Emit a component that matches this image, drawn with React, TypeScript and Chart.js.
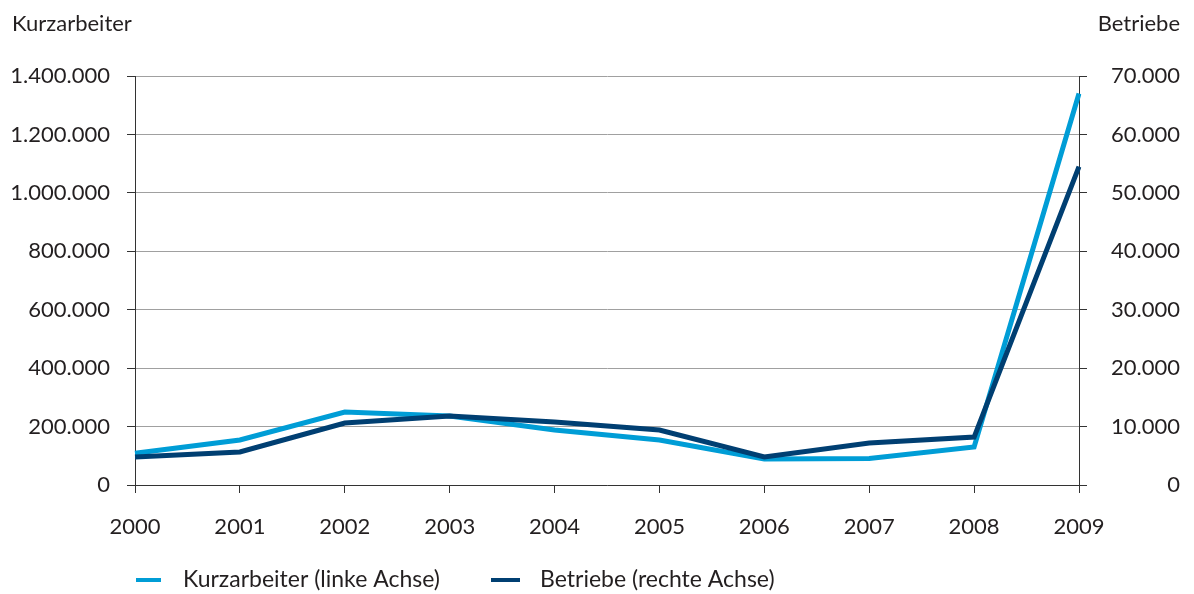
import React, { useEffect, useRef } from "react";
import { Chart, registerables } from "chart.js";

Chart.register(...registerables);

const years = ["2000", "2001", "2002", "2003", "2004", "2005", "2006", "2007", "2008", "2009"];
const kurzarbeiter = [109000, 154000, 250000, 236000, 188000, 154000, 89000, 91000, 130000, 1340000];
const betriebe = [4800, 5650, 10600, 11800, 10800, 9400, 4800, 7200, 8200, 54500];
const leftTitle = "Kurzarbeiter";
const rightTitle = "Betriebe";
const legendLabels = ["Kurzarbeiter (linke Achse)", "Betriebe (rechte Achse)"];

const LIGHT = "#009dd6";
const DARK = "#003f72";
const TEXT = "#231f20";
const FONT = "Lato";

const fmt = (v: number) => String(Math.round(v)).replace(/\B(?=(\d{3})+(?!\d))/g, ".");

const overlay = {
  id: "overlay",
  afterDraw(chart: any) {
    const ctx = chart.ctx;
    ctx.save();
    ctx.fillStyle = TEXT;
    ctx.font = `22px ${FONT}`;
    ctx.textBaseline = "middle";
    ctx.textAlign = "left";
    ctx.fillText(leftTitle, 12, 24);
    ctx.textAlign = "right";
    ctx.fillText(rightTitle, 1180, 24);
    // legend
    const y = 580;
    const items = [
      { x: 136, w: 25, tx: 183, color: LIGHT, label: legendLabels[0] },
      { x: 491, w: 29, tx: 540, color: DARK, label: legendLabels[1] },
    ];
    ctx.font = `23px ${FONT}`;
    ctx.textAlign = "left";
    items.forEach((it) => {
      ctx.strokeStyle = it.color;
      ctx.lineWidth = 4;
      ctx.beginPath();
      ctx.moveTo(it.x, y);
      ctx.lineTo(it.x + it.w, y);
      ctx.stroke();
      ctx.fillText(it.label, it.tx, y);
    });
    ctx.restore();
  },
};

export default function App() {
  const ref = useRef<HTMLCanvasElement>(null);
  useEffect(() => {
    document.body.style.margin = "0";
    const chart = new Chart(ref.current!, {
      type: "line",
      data: {
        labels: years,
        datasets: [
          {
            label: legendLabels[0],
            data: kurzarbeiter,
            yAxisID: "y",
            borderColor: LIGHT,
            backgroundColor: LIGHT,
            borderWidth: 5,
            pointRadius: 0,
            tension: 0,
            order: 1,
          },
          {
            label: legendLabels[1],
            data: betriebe,
            yAxisID: "y1",
            borderColor: DARK,
            backgroundColor: DARK,
            borderWidth: 5,
            pointRadius: 0,
            tension: 0,
            order: 0,
          },
        ],
      },
      options: {
        responsive: false,
        animation: false,
        events: [],
        layout: { padding: { top: 76, left: 0, right: 14, bottom: 0 } },
        plugins: { legend: { display: false }, tooltip: { enabled: false } },
        scales: {
          x: {
            type: "category",
            offset: false,
            grid: { drawOnChartArea: false, drawTicks: true, tickLength: 8, tickColor: "#333", offset: false },
            border: { color: "#333", width: 1 },
            ticks: { color: TEXT, font: { family: FONT, size: 22 }, padding: 21, maxRotation: 0, autoSkip: false },
            afterFit: (s: any) => { s.height = 109; },
          },
          y: {
            position: "left",
            min: 0,
            max: 1400000,
            ticks: { stepSize: 200000, color: TEXT, font: { family: FONT, size: 22 }, padding: 17, callback: (v: any) => fmt(Number(v)) },
            grid: { color: "#a0a0a0", lineWidth: 1, tickColor: "#333", tickLength: 8 },
            border: { color: "#333", width: 1 },
            afterFit: (s: any) => { s.width = 135; },
          },
          y1: {
            position: "right",
            min: 0,
            max: 70000,
            ticks: { stepSize: 10000, color: TEXT, font: { family: FONT, size: 22 }, padding: 11, crossAlign: "far", callback: (v: any) => fmt(Number(v)) },
            grid: { drawOnChartArea: false, tickColor: "#333", tickLength: 8 },
            border: { color: "#333", width: 1 },
            afterFit: (s: any) => { s.width = 101; },
          },
        },
      },
      plugins: [overlay],
    } as any);
    return () => chart.destroy();
  }, []);
  return <canvas ref={ref} width={1194} height={594} style={{ display: "block" }} />;
}
